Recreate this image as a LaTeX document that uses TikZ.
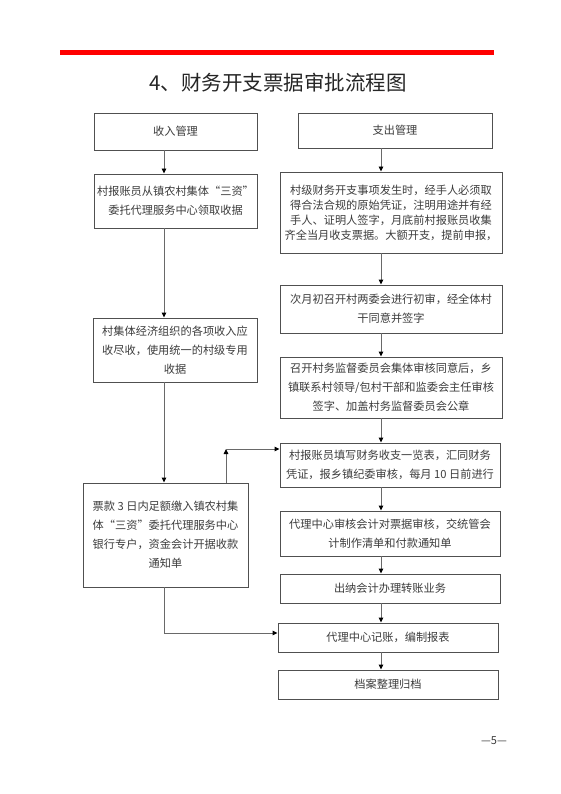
\documentclass[tikz,border=0pt]{standalone}
\usepackage{fontspec}
\setmainfont{Noto Sans CJK SC}
\usepackage{tikz}
\usetikzlibrary{arrows.meta}
\definecolor{edgegray}{RGB}{80,80,80}
\definecolor{linegray}{RGB}{105,105,105}
\definecolor{txtgray}{RGB}{60,60,60}
\tikzset{
    blk/.style={draw=edgegray, line width=0.9pt, align=center, inner sep=2pt, text=txtgray, font=\fontsize{11.2}{19}\selectfont},
    arr/.style={draw=linegray, line width=0.9pt, -{Triangle[length=5pt, width=4.5pt, color=black]}},
    seg/.style={draw=linegray, line width=0.9pt}
}
\begin{document}
\begin{tikzpicture}[x=1pt, y=-1pt]
    \path[fill=white, use as bounding box] (0,0) rectangle (561,794);
    \draw[red, line width=5pt] (60,53) -- (494,53);
    \node[font=\fontsize{20.5}{24}\selectfont, text=black!85] (title) at (278,83) {4、财务开支票据审批流程图};

    % income side
    \node[blk, minimum width=163pt, minimum height=37pt] (inL) at (175.5,131.5) {收入管理};
    \node[blk, minimum width=163pt, minimum height=54pt] (inA) at (175.5,201) {村报账员从镇农村集体“三资”\\委托代理服务中心领取收据};
    \node[blk, minimum width=164pt, minimum height=64pt] (inB) at (175,350) {村集体经济组织的各项收入应\\收尽收，使用统一的村级专用\\收据};
    \node[blk, minimum width=165pt, minimum height=104pt] (inC) at (165.5,535) {票款 3 日内足额缴入镇农村集\\体“三资”委托代理服务中心\\银行专户，资金会计开据收款\\通知单};

    % expense side
    \node[blk, minimum width=194pt, minimum height=35pt] (outL) at (395,130.5) {支出管理};
    \node[blk, minimum width=222pt, minimum height=81pt, font=\fontsize{11.2}{15}\selectfont] (outA) at (391,212.5) {村级财务开支事项发生时，经手人必须取\\得合法合规的原始凭证，注明用途并有经\\手人、证明人签字，月底前村报账员收集\\齐全当月收支票据。大额开支，提前申报，};
    \node[blk, minimum width=222pt, minimum height=48pt] (outB) at (391,309) {次月初召开村两委会进行初审，经全体村\\干同意并签字};
    \node[blk, minimum width=222pt, minimum height=61pt] (outC) at (391,387.5) {召开村务监督委员会集体审核同意后，乡\\镇联系村领导/包村干部和监委会主任审核\\签字、加盖村务监督委员会公章};
    \node[blk, minimum width=220pt, minimum height=44pt] (outD) at (390,465) {村报账员填写财务收支一览表，汇同财务\\凭证，报乡镇纪委审核，每月 10 日前进行};
    \node[blk, minimum width=220pt, minimum height=45pt] (outE) at (390,533.5) {代理中心审核会计对票据审核，交统管会\\计制作清单和付款通知单};
    \node[blk, minimum width=220pt, minimum height=29pt] (outF) at (390,588.5) {出纳会计办理转账业务};
    \node[blk, minimum width=220pt, minimum height=29pt] (outG) at (388,637.5) {代理中心记账，编制报表};
    \node[blk, minimum width=220pt, minimum height=29pt] (outH) at (388,684.5) {档案整理归档};

    \node[font=\fontsize{11}{13}\selectfont, text=txtgray] (pnum) at (494,741) {—5—};

    \coordinate (lc) at (164,0);
    \coordinate (rc) at (381,0);
    \coordinate (up) at (226,449);
    \coordinate (dn) at (164,633);

    \draw[arr] (inL.south -| lc) -- (inA.north -| lc);
    \draw[arr] (inA.south -| lc) -- (inB.north -| lc);
    \draw[arr] (inB.south -| lc) -- (inC.north -| lc);
    \draw[arr] (inC.north -| up) -- (up);
    \draw[arr] (up) -- (outD.west |- up);
    \draw[arr] (inC.south -| dn) -- (dn) -- (outG.west |- dn);

    \draw[arr] (outL.south -| rc) -- (outA.north -| rc);
    \draw[arr] (outA.south -| rc) -- (outB.north -| rc);
    \draw[arr] (outB.south -| rc) -- (outC.north -| rc);
    \draw[arr] (outC.south -| rc) -- (outD.north -| rc);
    \draw[arr] (outD.south -| rc) -- (outE.north -| rc);
    \draw[arr] (outE.south -| rc) -- (outF.north -| rc);
    \draw[arr] (outF.south -| rc) -- (outG.north -| rc);
    \draw[arr] (outG.south -| rc) -- (outH.north -| rc);
\end{tikzpicture}
\end{document}
